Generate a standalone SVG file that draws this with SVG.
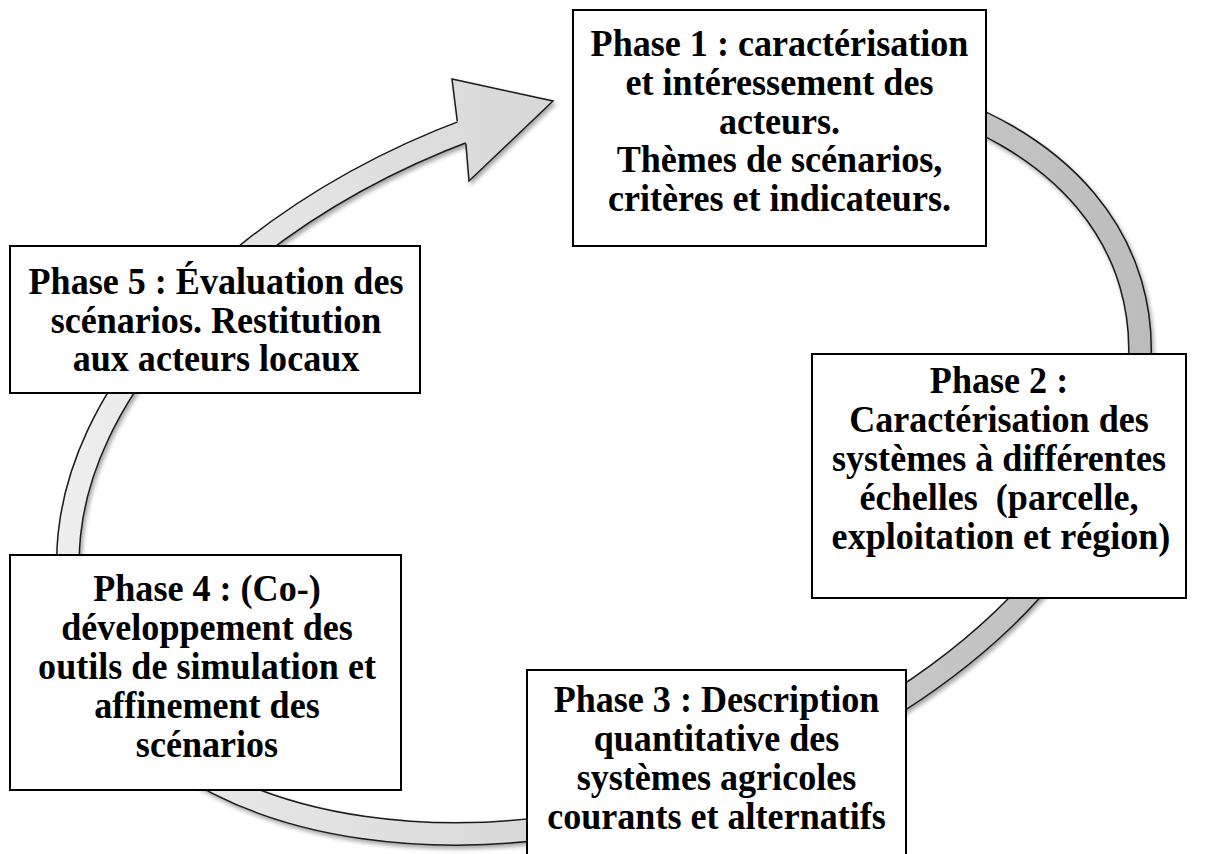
<svg xmlns="http://www.w3.org/2000/svg" width="1210" height="854" viewBox="0 0 1210 854">
<style>
.box{fill:#fff;stroke:#000;stroke-width:2}
.t{font-family:"Liberation Serif","Times New Roman",serif;font-weight:bold;font-size:38px;fill:#000;text-anchor:middle}
</style>
<defs>
<linearGradient id="g" gradientUnits="userSpaceOnUse" x1="60" y1="0" x2="1150" y2="0">
<stop offset="0" stop-color="#eeeeee"/>
<stop offset="1" stop-color="#bcbcbc"/>
</linearGradient>
<filter id="sh" x="-5%" y="-5%" width="110%" height="110%">
<feDropShadow dx="2" dy="3" stdDeviation="2" flood-color="#000" flood-opacity="0.35"/>
</filter>
</defs>
<rect width="1210" height="854" fill="#fff"/>
<g id="connectors" filter="url(#sh)">
<path d="M674.8 80.45 A554 352 -19.1 1 1 470.6 128.93" fill="none" stroke="#1a1a1a" stroke-width="24"/>
<path d="M674.8 80.45 A554 352 -19.1 1 1 470.6 128.93" fill="none" stroke="url(#g)" stroke-width="21"/>
<path d="M457.3 121.2 L452 79 L553 101 L469 181 L465.9 143.6" fill="url(#g)" stroke="#1a1a1a" stroke-width="1.5" stroke-linejoin="miter"/>
</g>
<g id="phase1">
<rect class="box" x="573" y="10" width="413" height="236"/>
<text class="t" transform="translate(779.5 56) scale(0.95 1)">Phase 1 : caractérisation</text>
<text class="t" transform="translate(779.5 95) scale(0.95 1)">et intéressement des</text>
<text class="t" transform="translate(779.5 134) scale(0.95 1)">acteurs.</text>
<text class="t" transform="translate(779.5 172) scale(0.95 1)">Thèmes de scénarios,</text>
<text class="t" transform="translate(779.5 211) scale(0.95 1)">critères et indicateurs.</text>
</g>
<g id="phase2">
<rect class="box" x="812" y="354" width="374" height="244"/>
<text class="t" transform="translate(999 393) scale(0.95 1)">Phase 2 :</text>
<text class="t" transform="translate(999 432) scale(0.95 1)">Caractérisation des</text>
<text class="t" transform="translate(999 471) scale(0.95 1)">systèmes à différentes</text>
<text class="t" transform="translate(999 510) scale(0.95 1)">échelles&#160; (parcelle,</text>
<text class="t" transform="translate(1001 549) scale(0.95 1)">exploitation et région)</text>
</g>
<g id="phase3">
<rect class="box" x="527" y="670" width="379" height="200"/>
<text class="t" transform="translate(716.5 712) scale(0.95 1)">Phase 3 : Description</text>
<text class="t" transform="translate(716.5 751) scale(0.95 1)">quantitative des</text>
<text class="t" transform="translate(716.5 790) scale(0.95 1)">systèmes agricoles</text>
<text class="t" transform="translate(716.5 829) scale(0.95 1)">courants et alternatifs</text>
</g>
<g id="phase4">
<rect class="box" x="10" y="555" width="391" height="235"/>
<text class="t" transform="translate(207 601) scale(0.95 1)">Phase 4 : (Co-)</text>
<text class="t" transform="translate(207 640) scale(0.95 1)">développement des</text>
<text class="t" transform="translate(207 679) scale(0.95 1)">outils de simulation et</text>
<text class="t" transform="translate(207 718) scale(0.95 1)">affinement des</text>
<text class="t" transform="translate(207 757) scale(0.95 1)">scénarios</text>
</g>
<g id="phase5">
<rect class="box" x="10" y="246" width="410" height="147"/>
<text class="t" transform="translate(216 294) scale(0.95 1)">Phase 5 : Évaluation des</text>
<text class="t" transform="translate(216 333) scale(0.95 1)">scénarios. Restitution</text>
<text class="t" transform="translate(216 371) scale(0.95 1)">aux acteurs locaux</text>
</g>
</svg>
